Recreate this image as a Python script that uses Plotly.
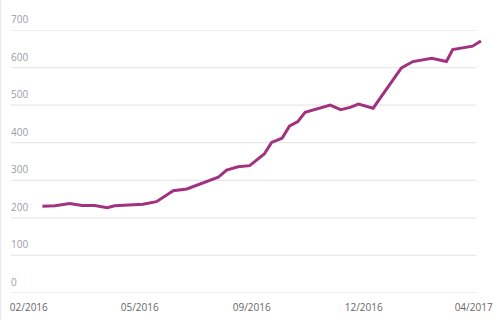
import plotly.graph_objects as go

dates = [
    "2016-02-28", "2016-03-11", "2016-03-25", "2016-04-06", "2016-04-18", "2016-04-30",
    "2016-05-07", "2016-05-23", "2016-06-03", "2016-06-16", "2016-07-02", "2016-07-15",
    "2016-07-29", "2016-08-14", "2016-08-22", "2016-09-02", "2016-09-13", "2016-09-27",
    "2016-10-04", "2016-10-14", "2016-10-21", "2016-10-29", "2016-11-05", "2016-11-29",
    "2016-12-09", "2016-12-18", "2016-12-26", "2017-01-09", "2017-02-05", "2017-02-16",
    "2017-03-06", "2017-03-20", "2017-03-26", "2017-04-14", "2017-04-22",
]
values = [
    231, 232, 238, 233, 233, 227,
    232, 234, 236, 243, 272, 277,
    292, 308, 327, 336, 339, 370,
    401, 412, 444, 456, 481, 500,
    488, 494, 503, 492, 599, 616,
    625, 616, 648, 657, 671,
]

x_tick_dates = ["2016-02-15", "2016-05-31", "2016-09-15", "2016-12-31", "2017-04-15"]
x_tick_labels = ["02/2016", "05/2016", "09/2016", "12/2016", "04/2017"]
y_ticks = [0, 100, 200, 300, 400, 500, 600, 700]

fig = go.Figure()
fig.add_trace(go.Scatter(
    x=dates, y=values, mode="lines",
    line=dict(color="#a0327f", width=3),
    hoverinfo="x+y",
))

for v in y_ticks:
    fig.add_shape(type="line", xref="paper", yref="y", x0=0, x1=0.987, y0=v, y1=v,
                  line=dict(color="#e8e8e8", width=1.3), layer="below")
    fig.add_annotation(x=0, xref="paper", y=v, yref="y", text=str(v),
                       xanchor="left", yanchor="bottom", showarrow=False,
                       xshift=-2, yshift=2,
                       font=dict(color="#9a9ca3", size=10, family="Open Sans"))

fig.add_shape(type="line", xref="paper", yref="paper", x0=-0.022, x1=-0.022, y0=-0.2, y1=1.2,
              line=dict(color="#eeeeee", width=1.5), layer="below")

fig.update_layout(
    width=500, height=320,
    margin=dict(l=11, r=18, t=30, b=27, autoexpand=False),
    paper_bgcolor="white", plot_bgcolor="white",
    showlegend=False,
    font=dict(family="Open Sans", size=10),
    xaxis=dict(
        type="date",
        range=["2016-01-29", "2017-04-23"],
        tickvals=x_tick_dates, ticktext=x_tick_labels,
        showgrid=False, zeroline=False, showline=False,
        ticks="", tickfont=dict(color="#666666", size=10),
        ticklabeloverflow="allow", ticklabelstandoff=7,
        automargin=False,
        fixedrange=True,
    ),
    yaxis=dict(
        range=[0, 700],
        showgrid=False, zeroline=False, showline=False,
        showticklabels=False, ticks="",
        automargin=False,
        fixedrange=True,
    ),
)

fig.write_html("out.html")
